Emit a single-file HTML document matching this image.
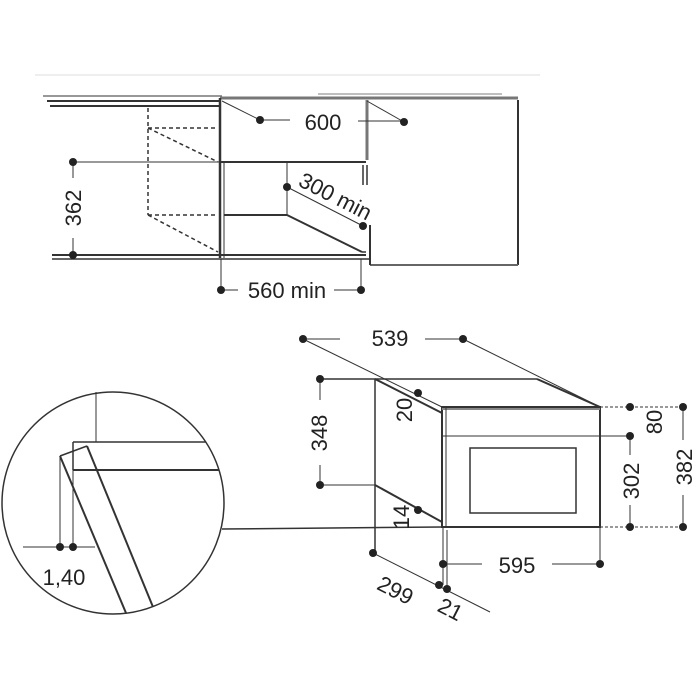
<!DOCTYPE html>
<html><head><meta charset="utf-8"><style>
html,body{margin:0;padding:0;background:#fff}
svg{display:block}
text{font-family:"Liberation Sans",sans-serif;font-size:22px;fill:#222}
</style></head><body>
<svg width="700" height="700" viewBox="0 0 700 700" xmlns="http://www.w3.org/2000/svg">
<g stroke="#333" stroke-width="1.5" fill="none">
<line x1="35" y1="75" x2="540" y2="75" stroke="#ddd" stroke-width="1"/>
<line x1="43" y1="96" x2="222" y2="96" stroke="#777"/>
<line x1="47" y1="101" x2="220" y2="101" stroke-width="2"/>
<line x1="50" y1="106" x2="220" y2="106" stroke-width="2"/>
<line x1="220" y1="98" x2="518" y2="98" stroke="#777" stroke-width="3"/>
<line x1="318" y1="94" x2="502" y2="94" stroke="#aaa"/>
<line x1="220" y1="98" x2="220" y2="258" stroke-width="2.5"/>
<line x1="224" y1="162" x2="224" y2="258" stroke-width="1"/>
<line x1="220" y1="162" x2="366" y2="162" stroke-width="2"/>
<line x1="367" y1="100" x2="367" y2="160" stroke="#777" stroke-width="3"/>
<line x1="363" y1="165" x2="363" y2="185" stroke-width="1.5"/>
<line x1="367" y1="165" x2="367" y2="185" stroke-width="1.5"/>
<line x1="518" y1="100" x2="518" y2="265" stroke-width="2"/>
<line x1="370" y1="265" x2="518" y2="265" stroke="#666" stroke-width="2"/>
<line x1="370" y1="225" x2="370" y2="265" stroke-width="2"/>
<line x1="52" y1="255" x2="366" y2="255" stroke-width="2"/>
<line x1="52" y1="259" x2="370" y2="259" stroke-width="1.5"/>
<line x1="224" y1="215" x2="287" y2="215" stroke-width="2"/>
<line x1="287" y1="163" x2="287" y2="215" stroke-width="1"/>
<line x1="287" y1="215" x2="362" y2="252" stroke-width="2"/>
<line x1="362" y1="252" x2="366" y2="252"/>
<line x1="287" y1="187" x2="363" y2="226" stroke-width="1"/>
<g stroke-dasharray="4,3" stroke-width="1.5">
<line x1="148" y1="108" x2="148" y2="215"/>
<line x1="148" y1="128" x2="218" y2="128"/>
<line x1="148" y1="128" x2="218" y2="162"/>
<line x1="148" y1="215" x2="218" y2="215"/>
<line x1="148" y1="215" x2="218" y2="252"/>
</g>
<line x1="222" y1="101" x2="260" y2="120" stroke-width="1"/>
<line x1="260" y1="120" x2="290" y2="120" stroke-width="1"/>
<line x1="358" y1="121" x2="404" y2="121" stroke-width="1"/>
<line x1="367" y1="101" x2="404" y2="122" stroke-width="1"/>
<line x1="73" y1="162" x2="220" y2="162" stroke-width="1"/>
<line x1="73" y1="162" x2="73" y2="178" stroke-width="1"/>
<line x1="73" y1="238" x2="73" y2="255" stroke-width="1"/>
<line x1="221" y1="259" x2="221" y2="290" stroke-width="1"/>
<line x1="361" y1="259" x2="361" y2="290" stroke-width="1"/>
<line x1="221" y1="290" x2="238" y2="290" stroke-width="1"/>
<line x1="334" y1="290" x2="361" y2="290" stroke-width="1"/>
<line x1="303" y1="339" x2="442" y2="407" stroke-width="1"/>
<line x1="463" y1="339" x2="600" y2="407" stroke-width="1"/>
<line x1="303" y1="339" x2="340" y2="339" stroke-width="1"/>
<line x1="425" y1="339" x2="463" y2="339" stroke-width="1"/>
<line x1="320" y1="379" x2="537" y2="379" stroke-width="1.5"/>
<line x1="537" y1="379" x2="600" y2="407" stroke-width="2"/>
<line x1="375" y1="379" x2="375" y2="555" stroke-width="1.5"/>
<line x1="375" y1="379" x2="442" y2="413" stroke-width="2"/>
<line x1="320" y1="485" x2="375" y2="485" stroke-width="1"/>
<line x1="375" y1="485" x2="442" y2="522" stroke-width="2"/>
<rect x="442" y="407" width="158" height="120" stroke-width="2"/>
<line x1="442" y1="409" x2="600" y2="409" stroke="#888" stroke-width="2"/>
<line x1="446" y1="407" x2="446" y2="527" stroke-width="1"/>
<line x1="442" y1="436" x2="630" y2="436" stroke-width="1"/>
<rect x="470" y="448" width="106" height="65" stroke-width="1.5"/>
<line x1="320" y1="379" x2="320" y2="400" stroke-width="1"/>
<line x1="320" y1="465" x2="320" y2="485" stroke-width="1"/>
<line x1="600" y1="407" x2="683" y2="407" stroke-width="1" stroke-dasharray="3,2"/>
<line x1="600" y1="527" x2="683" y2="527" stroke-width="1" stroke-dasharray="3,2"/>
<line x1="630" y1="436" x2="630" y2="455" stroke-width="1"/>
<line x1="630" y1="505" x2="630" y2="527" stroke-width="1"/>
<line x1="683" y1="407" x2="683" y2="440" stroke-width="1"/>
<line x1="683" y1="495" x2="683" y2="527" stroke-width="1"/>
<line x1="222" y1="529" x2="442" y2="527" stroke-width="1.5"/>
<line x1="600" y1="527" x2="600" y2="564" stroke-width="1"/>
<line x1="443" y1="527" x2="443" y2="585" stroke-width="1"/>
<line x1="447" y1="530" x2="447" y2="589" stroke-width="1"/>
<line x1="443" y1="564" x2="482" y2="564" stroke-width="1"/>
<line x1="552" y1="564" x2="600" y2="564" stroke-width="1"/>
<line x1="373" y1="553" x2="490" y2="612" stroke-width="1"/>
<circle cx="113" cy="503" r="111" stroke-width="1.5"/>
<line x1="96" y1="392" x2="96" y2="442" stroke-width="1"/>
<line x1="73" y1="442" x2="206" y2="442" stroke-width="1.5"/>
<line x1="73" y1="470" x2="219" y2="470" stroke-width="2"/>
<line x1="73" y1="442" x2="73" y2="470" stroke-width="1.5"/>
<line x1="60" y1="456" x2="87" y2="446" stroke-width="1.5"/>
<line x1="60" y1="456" x2="126" y2="613" stroke-width="2"/>
<line x1="87" y1="446" x2="153" y2="607" stroke-width="2"/>
<line x1="60" y1="456" x2="60" y2="547" stroke-width="1"/>
<line x1="73" y1="470" x2="73" y2="547" stroke-width="1"/>
<line x1="23" y1="547" x2="95" y2="547" stroke-width="1"/>
</g>
<g fill="#222">
<circle cx="260" cy="120" r="4"/><circle cx="404" cy="122" r="4"/>
<circle cx="73" cy="162" r="4"/><circle cx="73" cy="255" r="4"/>
<circle cx="221" cy="290" r="4"/><circle cx="361" cy="290" r="4"/>
<circle cx="287" cy="187" r="4"/><circle cx="363" cy="226" r="4"/>
<circle cx="303" cy="339" r="4"/><circle cx="463" cy="339" r="4"/>
<circle cx="320" cy="379" r="4"/><circle cx="320" cy="485" r="4"/>
<circle cx="418" cy="393" r="4"/><circle cx="418" cy="510" r="4"/>
<circle cx="630" cy="407" r="4"/><circle cx="683" cy="407" r="4"/>
<circle cx="630" cy="436" r="4"/><circle cx="630" cy="527" r="4"/>
<circle cx="683" cy="527" r="4"/>
<circle cx="443" cy="564" r="4"/><circle cx="600" cy="564" r="4"/>
<circle cx="373" cy="553" r="4"/>
<circle cx="439" cy="585" r="4"/><circle cx="447" cy="589" r="4"/>
<circle cx="60" cy="547" r="4"/><circle cx="73" cy="547" r="4"/>
</g>
<text x="323" y="130" text-anchor="middle">600</text>
<text transform="translate(81,208) rotate(-90)" text-anchor="middle">362</text>
<text x="287" y="298" text-anchor="middle">560 min</text>
<text transform="translate(332,203) rotate(27)" text-anchor="middle">300 min</text>
<text x="390" y="346" text-anchor="middle">539</text>
<text transform="translate(327,433) rotate(-90)" text-anchor="middle">348</text>
<text transform="translate(412,410) rotate(-90)" text-anchor="middle">20</text>
<text transform="translate(409,517) rotate(-90)" text-anchor="middle">14</text>
<text transform="translate(662,422) rotate(-90)" text-anchor="middle">80</text>
<text transform="translate(639,481) rotate(-90)" text-anchor="middle">302</text>
<text transform="translate(692,467) rotate(-90)" text-anchor="middle">382</text>
<text x="517" y="573" text-anchor="middle">595</text>
<text transform="translate(392,597) rotate(27)" text-anchor="middle">299</text>
<text transform="translate(447,616) rotate(27)" text-anchor="middle">21</text>
<text x="64" y="585" text-anchor="middle">1,40</text>
</svg>
</body></html>
